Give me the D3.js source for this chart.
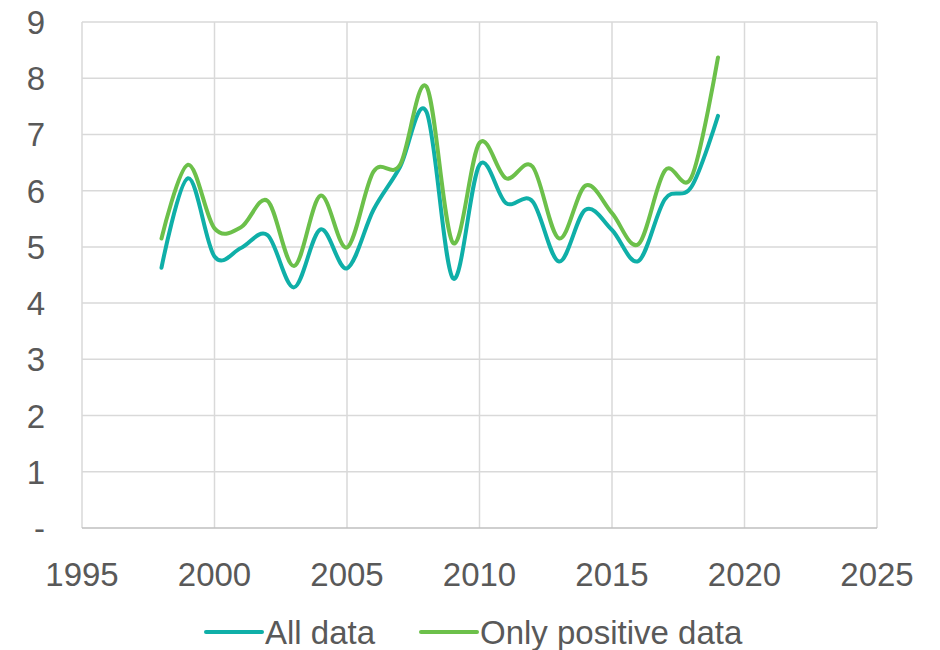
<!DOCTYPE html>
<meta charset="utf-8">
<script src="https://d3js.org/d3.v7.min.js"></script>
<style>
  body { margin: 0; background: #fff; }
  text { font-family: "Liberation Sans", Arial, sans-serif; fill: #595959; }
</style>
<div id="chart"></div>
<script>

var years = [1998, 1999, 2000, 2001, 2002, 2003, 2004, 2005, 2006, 2007, 2008,
             2009, 2010, 2011, 2012, 2013, 2014, 2015, 2016, 2017, 2018, 2019];
var allData = [4.63, 6.22, 4.83, 4.98, 5.21, 4.28, 5.31, 4.62, 5.66, 6.42, 7.40,
               4.44, 6.46, 5.78, 5.81, 4.74, 5.66, 5.30, 4.75, 5.85, 6.07, 7.33];
var positiveData = [5.15, 6.46, 5.33, 5.35, 5.82, 4.66, 5.91, 4.99, 6.34, 6.46, 7.85,
                    5.07, 6.85, 6.22, 6.43, 5.15, 6.09, 5.60, 5.05, 6.36, 6.24, 8.37];
var xTicks = [1995, 2000, 2005, 2010, 2015, 2020, 2025];
var yTicks = [0, 1, 2, 3, 4, 5, 6, 7, 8, 9];
var seriesNames = ["All data", "Only positive data"];

var width = 940,
  height = 650,
  margin = {top: 22, right: 63, bottom: 122, left: 82},
  tealColor = "#0fafa8",
  greenColor = "#6cc04a",
  gridColor = "#d9d9d9",
  fontSize = "33px";

var svg = d3.select("#chart")
  .append("svg")
    .attr("width", width)
    .attr("height", height);

var x = d3.scaleLinear().domain([1995, 2025]).range([margin.left, width - margin.right]);
var y = d3.scaleLinear().domain([0, 9]).range([height - margin.bottom, margin.top]);

// gridlines
svg.selectAll("hgrid")
  .data(yTicks.slice(1))
  .enter()
  .append("line")
    .attr("x1", x(1995)).attr("x2", x(2025))
    .attr("y1", function(d){ return y(d) }).attr("y2", function(d){ return y(d) })
    .attr("stroke", gridColor)
    .attr("stroke-width", 1.5)

svg.selectAll("vgrid")
  .data(xTicks)
  .enter()
  .append("line")
    .attr("x1", function(d){ return x(d) }).attr("x2", function(d){ return x(d) })
    .attr("y1", y(9)).attr("y2", y(0))
    .attr("stroke", gridColor)
    .attr("stroke-width", 1.5)

svg.append("line")
  .attr("x1", x(1995)).attr("x2", x(2025))
  .attr("y1", y(0)).attr("y2", y(0))
  .attr("stroke", "#bfbfbf")
  .attr("stroke-width", 1.5)

// tick labels
svg.selectAll("ylabels")
  .data(yTicks)
  .enter()
  .append("text")
    .attr("x", 45)
    .attr("y", function(d){ return y(d) + 12 })
    .attr("text-anchor", "end")
    .style("font-size", fontSize)
    .text(function(d){ return d === 0 ? "-" : d })

svg.selectAll("xlabels")
  .data(xTicks)
  .enter()
  .append("text")
    .attr("x", function(d){ return x(d) })
    .attr("y", 586)
    .attr("text-anchor", "middle")
    .style("font-size", fontSize)
    .text(function(d){ return d })

// lines
var line = d3.line()
  .x(function(d){ return x(d[0]) })
  .y(function(d){ return y(d[1]) })
  .curve(d3.curveCardinal.tension(0))

svg.append("path")
  .datum(d3.zip(years, allData))
  .attr("d", line)
  .attr("fill", "none")
  .attr("stroke", tealColor)
  .attr("stroke-width", 4)
  .attr("stroke-linecap", "round")

svg.append("path")
  .datum(d3.zip(years, positiveData))
  .attr("d", line)
  .attr("fill", "none")
  .attr("stroke", greenColor)
  .attr("stroke-width", 4)
  .attr("stroke-linecap", "round")

// legend
var legend = [
  {name: seriesNames[0], color: tealColor, x: 206},
  {name: seriesNames[1], color: greenColor, x: 421}
];
legend.forEach(function(l){
  svg.append("line")
    .attr("x1", l.x).attr("x2", l.x + 56)
    .attr("y1", 632).attr("y2", 632)
    .attr("stroke", l.color)
    .attr("stroke-width", 4)
    .attr("stroke-linecap", "round")
  svg.append("text")
    .attr("x", l.x + 59)
    .attr("y", 644)
    .style("font-size", fontSize)
    .text(l.name)
})

</script>
